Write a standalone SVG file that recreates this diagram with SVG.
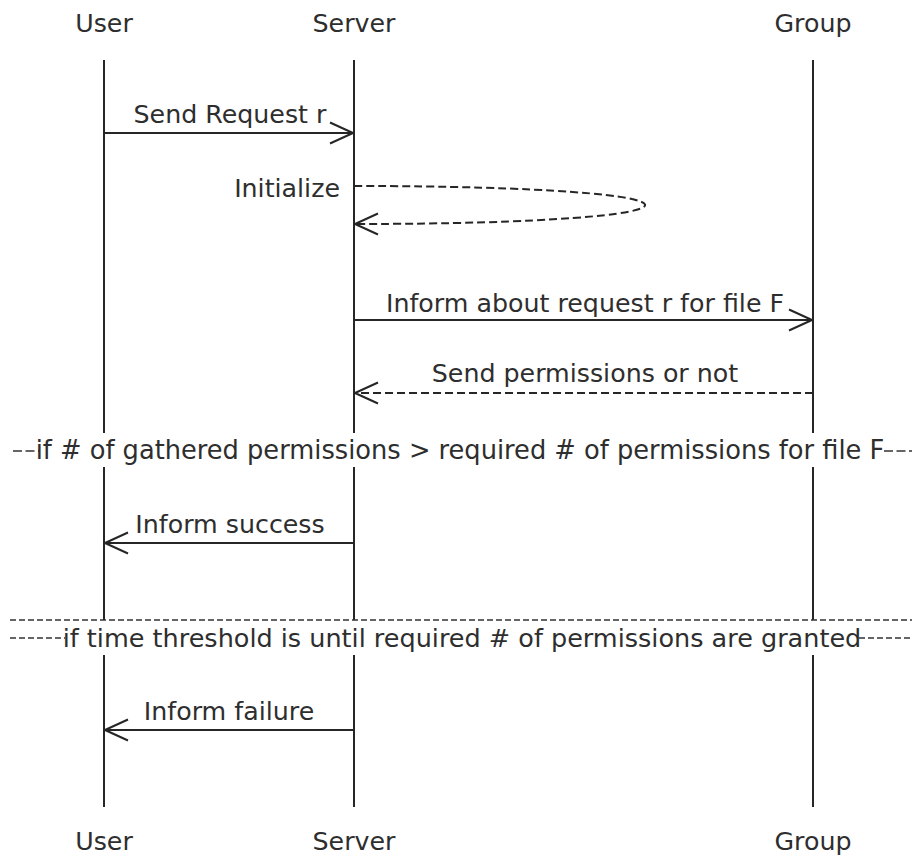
<svg xmlns="http://www.w3.org/2000/svg" width="917" height="857" viewBox="0 0 917 857">
<style>
text{font-family:"DejaVu Sans","Liberation Sans",sans-serif;font-size:25.3px;fill:#2e2e2e;}
.c{text-anchor:middle;}
.e{text-anchor:end;}
.s{font-size:25.7px;}
.s2{font-size:25.5px;}
.life{stroke:#262626;stroke-width:2;fill:none;}
.msg{stroke:#262626;stroke-width:2;fill:none;marker-end:url(#arr);}
.dash{stroke-dasharray:8,4;}
.sep{stroke:#333;stroke-width:1.7;fill:none;stroke-dasharray:6,3;}
.sep2{stroke:#333;stroke-width:1.7;fill:none;stroke-dasharray:9,3.5;}
</style>
<defs>
<marker id="arr" viewBox="0 0 26 24" refX="24" refY="12" markerWidth="26" markerHeight="24" markerUnits="userSpaceOnUse" orient="auto">
<path d="M1,1.5 L24,12 L1,22.5" fill="none" stroke="#262626" stroke-width="2" stroke-dasharray="none"/>
</marker>
</defs>
<rect width="917" height="857" fill="#fff"/>
<g id="user">
<text class="c" x="104" y="32">User</text>
<path class="life" d="M104,60 V433 M104,467 V620 M104,655 V807"/>
<text class="c" x="104" y="850">User</text>
</g>
<g id="server">
<text class="c" x="354" y="32">Server</text>
<path class="life" d="M354,60 V433 M354,467 V620 M354,655 V807"/>
<text class="c" x="354" y="850">Server</text>
</g>
<g id="group">
<text class="c" x="813" y="32">Group</text>
<path class="life" d="M813,60 V433 M813,467 V620 M813,655 V807"/>
<text class="c" x="813" y="850">Group</text>
</g>
<g id="separators">
<path class="sep2" d="M13,451 H39"/>
<path class="sep2" d="M884,451 H912"/>
<text class="c s" x="460" y="459">if # of gathered permissions &gt; required # of permissions for file F</text>
<path class="sep" d="M10,620 H912"/>
<path class="sep" d="M10,638 H65"/>
<path class="sep" d="M859,638 H912"/>
<text class="c s2" x="462" y="647">if time threshold is until required # of permissions are granted</text>
</g>
<g id="connectors">
<path class="msg" d="M104,133 H353"/>
<path class="msg dash" d="M354,186 C742,186 742,224 355,224"/>
<path class="msg" d="M354,320 H812"/>
<path class="msg dash" d="M813,393 H355"/>
<path class="msg" d="M354,543 H105"/>
<path class="msg" d="M354,730 H105"/>
</g>
<g id="labels">
<text class="c" x="230" y="123">Send Request r</text>
<text class="e" x="340" y="197">Initialize</text>
<text class="c" x="585" y="312">Inform about request r for file F</text>
<text class="c" x="585" y="382">Send permissions or not</text>
<text class="c" x="230" y="533">Inform success</text>
<text class="c" x="229" y="720">Inform failure</text>
</g>
</svg>
